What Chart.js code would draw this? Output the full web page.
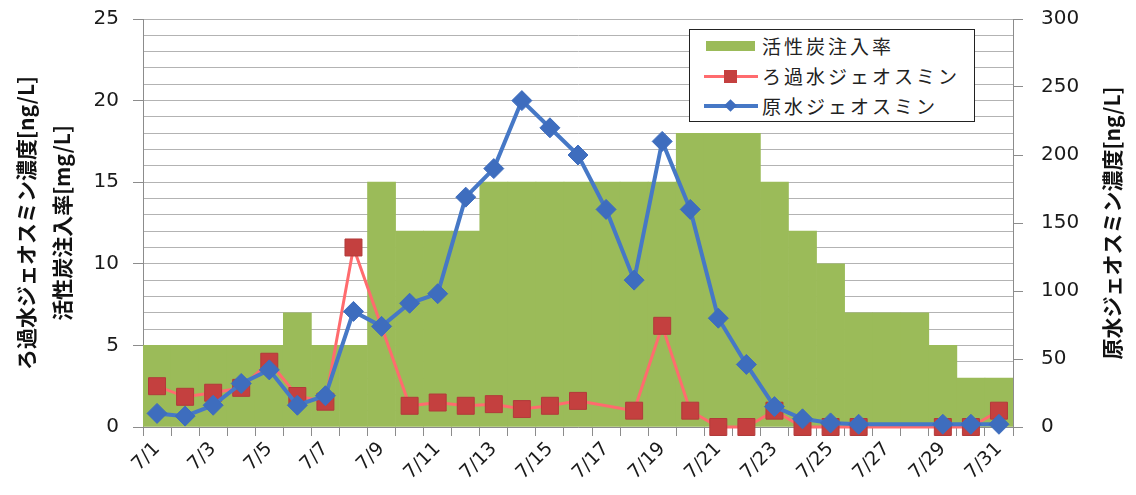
<!DOCTYPE html>
<html>
<head>
<meta charset="utf-8">
<script src="https://cdn.jsdelivr.net/npm/chart.js@4/dist/chart.umd.min.js"></script>
<style>
    body { margin: 0; background: #fff; }
    #wrap { position: relative; width: 1136px; height: 495px; }
    #legend {
        position: absolute; left: 689px; top: 29px; width: 284px; height: 91px;
        border: 1.5px solid #222; background: #fff;
        font-family: "Noto Sans CJK JP", sans-serif; font-size: 19px; color: #222;
    }
    .row { position: absolute; left: 0; height: 30px; width: 100%; }
    .row span { position: absolute; left: 72px; top: 0; line-height: 30px; letter-spacing: 3px; }
    .sym { position: absolute; left: 14px; top: 0; width: 52px; height: 30px; }
</style>
</head>
<body>
<div id="wrap">
    <canvas id="chart" width="1136" height="495"></canvas>
    <div id="legend"></div>
</div>
<script>
const days = ['7/1', '7/2', '7/3', '7/4', '7/5', '7/6', '7/7', '7/8', '7/9', '7/10',
    '7/11', '7/12', '7/13', '7/14', '7/15', '7/16', '7/17', '7/18', '7/19', '7/20',
    '7/21', '7/22', '7/23', '7/24', '7/25', '7/26', '7/27', '7/28', '7/29', '7/30', '7/31'];

// 活性炭注入率 [mg/L]
const carbonRate = [5, 5, 5, 5, 5, 7, 5, 5, 15, 12, 12, 12, 15, 15, 15, 15, 15, 15, 15, 18,
    18, 18, 15, 12, 10, 7, 7, 7, 5, 3, 3];

// ろ過水ジェオスミン [ng/L]
const filteredGeosmin = [2.5, 1.85, 2.1, 2.4, 4.0, 1.9, 1.55, 11.0, null, 1.3,
    1.5, 1.3, 1.4, 1.1, 1.3, 1.6, null, 1.0, 6.2, 1.0,
    0, 0, 1.0, 0, 0, 0, null, null, 0, 0, 1.0];

// 原水ジェオスミン [ng/L]
const rawGeosmin = [10, 8, 16, 32, 42, 16, 23, 85, 74, 91,
    98, 169, 190, 240, 220, 200, 160, 108, 210, 160,
    80, 46, 15, 6, 3, 2, null, null, 2, 2, 2];

const leftTicks = [0, 5, 10, 15, 20, 25];
const rightTicks = [0, 50, 100, 150, 200, 250, 300];

const GREEN = '#9BBB59';
const RED_LINE = '#FF6B6E';
const RED_MARK = '#C4403F';
const BLUE_LINE = '#4678C6';
const BLUE_MARK = '#3E6DBE';
const GRID = '#b3b3b3';
const AXIS = '#8c8c8c';
const FONT = '"Noto Sans CJK JP", sans-serif';
const TICK_FONT = '"DejaVu Sans", sans-serif';

const series = [
    { name: '活性炭注入率', kind: 'bar' },
    { name: 'ろ過水ジェオスミン', kind: 'square' },
    { name: '原水ジェオスミン', kind: 'diamond' },
];

// legend box built as plain html
function buildLegend() {
    const box = document.getElementById('legend');
    series.forEach((s, i) => {
        const row = document.createElement('div');
        row.className = 'row';
        row.style.top = (1 + i * 30) + 'px';
        let sym;
        if (s.kind === 'bar') {
            sym = `<div style="position:absolute;left:2px;top:10px;width:49px;height:10px;background:${GREEN}"></div>`;
        } else if (s.kind === 'square') {
            sym = `<div style="position:absolute;left:0;top:14px;width:54px;height:3px;background:${RED_LINE}"></div>` +
                `<div style="position:absolute;left:20px;top:9px;width:13px;height:13px;background:${RED_MARK}"></div>`;
        } else {
            sym = `<div style="position:absolute;left:0;top:13px;width:54px;height:4px;background:${BLUE_LINE}"></div>` +
                `<div style="position:absolute;left:22px;top:10px;width:9px;height:9px;background:${BLUE_MARK};transform:rotate(45deg)"></div>`;
        }
        row.innerHTML = `<div class="sym">${sym}</div><span>${s.name}</span>`;
        box.appendChild(row);
    });
}

// right axis title reads bottom-to-top, so it is drawn here
const rightTitle = {
    id: 'rightTitle',
    afterDraw(chart) {
        const { ctx, chartArea } = chart;
        ctx.save();
        ctx.translate(1112, (chartArea.top + chartArea.bottom) / 2);
        ctx.rotate(-Math.PI / 2);
        ctx.font = `bold 21px ${FONT}`;
        ctx.fillStyle = '#111';
        ctx.textAlign = 'center';
        ctx.textBaseline = 'middle';
        ctx.fillText('原水ジェオスミン濃度[ng/L]', 0, 0);
        ctx.restore();
    }
};

// tick padding would otherwise push the plot top down
function fixWidth(w) {
    return scale => {
        scale.width = w;
        scale.paddingTop = 10;
        scale.paddingBottom = 10;
    };
}

buildLegend();

new Chart(document.getElementById('chart').getContext('2d'), {
    data: {
        labels: days,
        datasets: [
            {
                type: 'line',
                label: series[2].name,
                data: rawGeosmin,
                yAxisID: 'yRight',
                borderColor: BLUE_LINE,
                borderWidth: 4,
                pointStyle: 'rectRot',
                pointRadius: 10,
                pointBackgroundColor: BLUE_MARK,
                pointBorderColor: BLUE_MARK,
                pointBorderWidth: 1,
                tension: 0,
                spanGaps: true,
                clip: false,
                order: 0,
            },
            {
                type: 'line',
                label: series[1].name,
                data: filteredGeosmin,
                yAxisID: 'yLeft',
                borderColor: RED_LINE,
                borderWidth: 3,
                pointStyle: 'rect',
                pointRadius: 12,
                pointBackgroundColor: RED_MARK,
                pointBorderColor: '#B23A3A',
                pointBorderWidth: 1,
                tension: 0,
                spanGaps: true,
                clip: false,
                order: 1,
            },
            {
                type: 'bar',
                label: series[0].name,
                data: carbonRate,
                yAxisID: 'yLeft',
                backgroundColor: GREEN,
                borderWidth: 0,
                barPercentage: 1,
                categoryPercentage: 1,
                order: 2,
            },
        ]
    },
    options: {
        responsive: false,
        animation: false,
        events: [],
        layout: { autoPadding: false, padding: { top: 19, left: 0, right: 0, bottom: 0 } },
        plugins: {
            legend: { display: false },
            tooltip: { enabled: false },
        },
        scales: {
            x: {
                type: 'category',
                offset: true,
                grid: {
                    offset: true,
                    drawOnChartArea: false,
                    tickLength: 9,
                    tickColor: AXIS,
                },
                border: { color: AXIS },
                ticks: {
                    autoSkip: false,
                    maxRotation: 45,
                    minRotation: 45,
                    padding: 2,
                    color: '#1a1a1a',
                    font: { family: TICK_FONT, size: 19 },
                    callback: (v, i) => (i % 2 === 0 ? days[i] : ''),
                },
                afterFit: scale => { scale.height = 68; },
            },
            yLeft: {
                position: 'left',
                min: 0,
                max: 25,
                grid: {
                    color: GRID,
                    tickLength: 10,
                    tickColor: ctx => (leftTicks.includes(ctx.tick.value) ? AXIS : 'rgba(0,0,0,0)'),
                },
                border: { color: AXIS },
                ticks: {
                    stepSize: 1,
                    autoSkip: false,
                    padding: 14,
                    color: '#1a1a1a',
                    font: { family: TICK_FONT, size: 20 },
                    callback: v => (leftTicks.includes(v) ? v : ''),
                },
                title: {
                    display: true,
                    text: ['ろ過水ジェオスミン濃度[ng/L]', '活性炭注入率[mg/L]'],
                    color: '#111',
                    font: { family: FONT, size: 21, weight: 'bold', lineHeight: 1.7 },
                    padding: { top: 8, bottom: 0 },
                },
                afterFit: fixWidth(143),
            },
            yRight: {
                position: 'right',
                min: 0,
                max: 300,
                grid: {
                    drawOnChartArea: false,
                    tickLength: 10,
                    tickColor: AXIS,
                },
                border: { color: AXIS },
                ticks: {
                    stepSize: 50,
                    padding: 18,
                    color: '#1a1a1a',
                    font: { family: TICK_FONT, size: 20 },
                    callback: v => (rightTicks.includes(v) ? v : ''),
                },
                afterFit: fixWidth(123),
            },
        },
    },
    plugins: [rightTitle],
});
</script>
</body>
</html>
